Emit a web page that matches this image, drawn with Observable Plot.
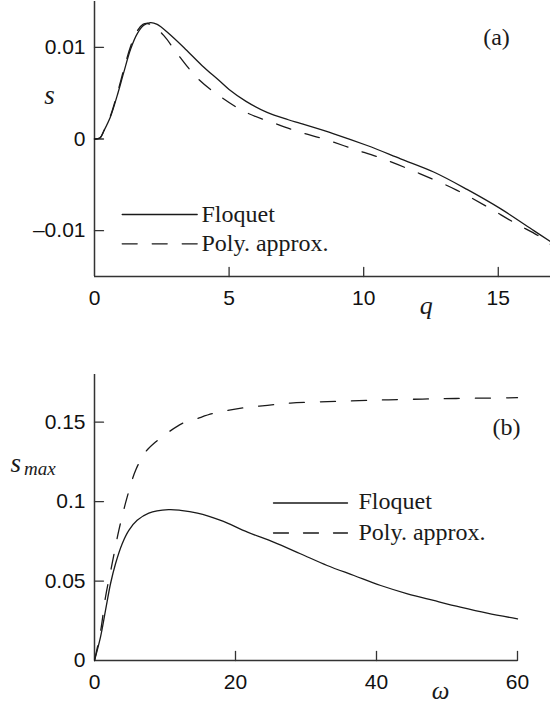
<!DOCTYPE html>
<html><head><meta charset="utf-8">
<script src="https://cdn.jsdelivr.net/npm/d3@7"></script>
<script src="https://cdn.jsdelivr.net/npm/@observablehq/plot@0.6"></script>
<style>
html,body{margin:0;padding:0;background:#fff;}
#chart{width:550px;height:704px;overflow:hidden;background:#fff;}
#chart svg{display:block;}
</style></head><body><div id="chart"></div>
<script>
// ---------- Panel (a): s versus q ----------
const qFloquet = [0, 0.2, 0.35, 0.59, 0.84, 1.09, 1.34, 1.59, 1.83, 2.08, 2.33, 2.76, 3.38, 4.0, 4.62, 5.0, 5.63, 6.41, 7.2, 7.65, 8.89, 10.13, 11.37, 12.6, 13.84, 15.08, 16.32, 16.94];
const sFloquet = [0, 0.0001, 0.0009, 0.0024, 0.0047, 0.0073, 0.0098, 0.0115, 0.0124, 0.0127, 0.0125, 0.0115, 0.0098, 0.0080, 0.0064, 0.0054, 0.0041, 0.0029, 0.0021, 0.0017, 0.00057, -0.00071, -0.00216, -0.0036, -0.0055, -0.0076, -0.0100, -0.0112];
const qPoly = [0, 0.2, 0.35, 0.59, 0.84, 1.09, 1.34, 1.59, 1.8, 1.96, 2.2, 2.57, 3.13, 3.87, 4.74, 5.63, 6.8, 7.65, 8.52, 9.63, 10.75, 12.1, 13.47, 14.59, 15.58, 16.57, 16.94];
const sPoly = [0, 0.0001, 0.0009, 0.0025, 0.0049, 0.0076, 0.0101, 0.0118, 0.0125, 0.0126, 0.0123, 0.0113, 0.0091, 0.0065, 0.0045, 0.0029, 0.0016, 0.00074, 0.0, -0.0011, -0.0022, -0.0038, -0.0056, -0.0074, -0.0091, -0.0107, -0.0115];
const xDomainA = [0, 16.94];
const yDomainA = [-0.015, 0.015];
const xTicksA = [0, 5, 10, 15];
const yTicksA = [-0.01, 0, 0.01];

// ---------- Panel (b): s_max versus omega ----------
const wFloquet = [0, 0.85, 1.56, 2.27, 2.98, 3.93, 4.87, 6.05, 7.7, 10.5, 12.2, 14.6, 17.9, 21.7, 25.4, 29.2, 33.0, 36.8, 40.6, 44.4, 48.1, 51.9, 55.7, 60];
const smaxFloquet = [0, 0.0147, 0.0315, 0.0483, 0.0609, 0.0735, 0.0819, 0.0882, 0.0928, 0.0949, 0.0945, 0.0928, 0.0882, 0.0808, 0.0745, 0.0672, 0.0598, 0.0535, 0.0472, 0.0420, 0.0378, 0.0336, 0.0298, 0.0262];
const wPoly = [0, 0.85, 1.56, 2.5, 3.45, 4.63, 5.82, 7.23, 8.65, 10.3, 12.4, 14.5, 16.7, 18.9, 21.3, 23.4, 25.8, 27.8, 36.4, 43.9, 51.3, 60];
const smaxPoly = [0, 0.018, 0.0399, 0.0609, 0.0819, 0.1028, 0.1196, 0.1312, 0.1375, 0.1431, 0.1491, 0.1522, 0.1553, 0.1574, 0.1591, 0.1601, 0.1612, 0.1620, 0.1634, 0.1643, 0.1649, 0.1654];
const xDomainB = [0, 60];
const yDomainB = [0, 0.18];
const xTicksB = [0, 20, 40, 60];
const yTicksB = [0, 0.05, 0.1, 0.15];

const legendLabels = ["Floquet", "Poly. approx."];
const panelTags = ["(a)", "(b)"];

// ---------- helpers ----------
const tbl = (xs, ys) => xs.map((x, i) => ({x, y: ys[i]}));
const fmt = d => d < 0 ? "\u2013" + String(-d) : String(d);
const tickUp = {draw(c, l) { c.moveTo(0, 0); c.lineTo(0, -l); }};
const tickRight = {draw(c, l) { c.moveTo(0, 0); c.lineTo(l, 0); }};
const INK = "#1a1a1a", AXIS = "#333";
const serif = "'Liberation Serif', 'Times New Roman', serif";
const sans = "'Liberation Sans', Arial, sans-serif";
const lineW = 1.3;
const dash = "15,15";

function txt(s, o) {
  return Plot.text([s], {text: d => d, fill: INK, lineAnchor: "bottom", ...o});
}

// ---------- Panel (a) ----------
const plotA = Plot.plot({
  width: 550, height: 330,
  marginTop: 1, marginBottom: 54, marginLeft: 94, marginRight: 0,
  x: {domain: xDomainA},
  y: {domain: yDomainA},
  style: {fontFamily: sans, fontSize: "21px", color: "#111", background: "#fff"},
  marks: [
    Plot.ruleX([xDomainA[0]], {stroke: AXIS, strokeWidth: 1.5}),
    Plot.ruleY([yDomainA[0]], {stroke: AXIS, strokeWidth: 1.5}),
    Plot.vector(xTicksA.filter(d => d !== xDomainA[0]), {x: d => d, frameAnchor: "bottom", length: 9, anchor: "start", shape: tickUp, stroke: AXIS, strokeWidth: 1.3}),
    Plot.vector(yTicksA, {y: d => d, frameAnchor: "left", length: 9, anchor: "start", shape: tickRight, stroke: AXIS, strokeWidth: 1.3}),
    Plot.axisX({ticks: xTicksA, tickSize: 0, tickPadding: 14, tickFormat: fmt, label: null}),
    Plot.axisY({ticks: yTicksA, tickSize: 0, tickPadding: 9, tickFormat: fmt, label: null}),
    Plot.line(tbl(qFloquet, sFloquet), {x: "x", y: "y", stroke: INK, strokeWidth: lineW, curve: "catmull-rom"}),
    Plot.line(tbl(qPoly, sPoly), {x: "x", y: "y", stroke: INK, strokeWidth: lineW, strokeDasharray: dash, curve: "catmull-rom"}),
    // legend
    Plot.vector([0], {frameAnchor: "top-left", dx: 27.7, dy: 213, length: 75, anchor: "start", shape: tickRight, stroke: INK, strokeWidth: lineW}),
    Plot.vector([0], {frameAnchor: "top-left", dx: 27.7, dy: 242.3, length: 75, anchor: "start", shape: tickRight, stroke: INK, strokeWidth: lineW, strokeDasharray: dash}),
    txt(legendLabels[0], {frameAnchor: "top-left", dx: 107, dy: 220.5, textAnchor: "start", fontFamily: serif, fontSize: 24}),
    txt(legendLabels[1], {frameAnchor: "top-left", dx: 107, dy: 249.5, textAnchor: "start", fontFamily: serif, fontSize: 24}),
    // labels
    txt("s", {frameAnchor: "top-left", dx: -45, dy: 102, textAnchor: "middle", fontFamily: serif, fontStyle: "italic", fontSize: 27}),
    txt("q", {frameAnchor: "bottom-left", dx: 331.7, dy: 37, textAnchor: "middle", fontFamily: serif, fontStyle: "italic", fontSize: 26}),
    txt(panelTags[0], {frameAnchor: "top-left", dx: 402, dy: 43, textAnchor: "middle", fontFamily: serif, fontSize: 24})
  ]
});

// ---------- Panel (b) ----------
const plotB = Plot.plot({
  width: 550, height: 374,
  marginTop: 44, marginBottom: 44, marginLeft: 94, marginRight: 33,
  x: {domain: xDomainB},
  y: {domain: yDomainB},
  style: {fontFamily: sans, fontSize: "21px", color: "#111", background: "#fff"},
  marks: [
    Plot.ruleX([xDomainB[0]], {stroke: AXIS, strokeWidth: 1.5}),
    Plot.ruleY([yDomainB[0]], {stroke: AXIS, strokeWidth: 1.5}),
    Plot.vector(xTicksB.filter(d => d !== xDomainB[0]), {x: d => d, frameAnchor: "bottom", length: 9, anchor: "start", shape: tickUp, stroke: AXIS, strokeWidth: 1.3}),
    Plot.vector(yTicksB.filter(d => d !== yDomainB[0]), {y: d => d, frameAnchor: "left", length: 9, anchor: "start", shape: tickRight, stroke: AXIS, strokeWidth: 1.3}),
    Plot.axisX({ticks: xTicksB, tickSize: 0, tickPadding: 14, tickFormat: fmt, label: null}),
    Plot.axisY({ticks: yTicksB, tickSize: 0, tickPadding: 9, tickFormat: fmt, label: null}),
    Plot.line(tbl(wFloquet, smaxFloquet), {x: "x", y: "y", stroke: INK, strokeWidth: lineW, curve: "catmull-rom"}),
    Plot.line(tbl(wPoly, smaxPoly), {x: "x", y: "y", stroke: INK, strokeWidth: lineW, strokeDasharray: "15,16", curve: "catmull-rom"}),
    // legend
    Plot.vector([0], {frameAnchor: "top-left", dx: 179, dy: 128.5, length: 74, anchor: "start", shape: tickRight, stroke: INK, strokeWidth: lineW}),
    Plot.vector([0], {frameAnchor: "top-left", dx: 179, dy: 158.5, length: 74, anchor: "start", shape: tickRight, stroke: INK, strokeWidth: lineW, strokeDasharray: dash}),
    txt(legendLabels[0], {frameAnchor: "top-left", dx: 264, dy: 134.5, textAnchor: "start", fontFamily: serif, fontSize: 24}),
    txt(legendLabels[1], {frameAnchor: "top-left", dx: 264, dy: 165, textAnchor: "start", fontFamily: serif, fontSize: 24}),
    // labels
    txt("s", {frameAnchor: "top-left", dx: -84, dy: 97.7, textAnchor: "start", fontFamily: serif, fontStyle: "italic", fontSize: 27}),
    txt("max", {frameAnchor: "top-left", dx: -70.5, dy: 100.5, textAnchor: "start", fontFamily: serif, fontStyle: "italic", fontSize: 19}),
    txt("\u03c9", {frameAnchor: "bottom-left", dx: 346, dy: 38, textAnchor: "middle", fontFamily: serif, fontStyle: "italic", fontSize: 25}),
    txt(panelTags[1], {frameAnchor: "top-left", dx: 412, dy: 60, textAnchor: "middle", fontFamily: serif, fontSize: 24})
  ]
});

const root = document.getElementById("chart");
root.appendChild(plotA);
root.appendChild(plotB);
</script>
</body></html>
